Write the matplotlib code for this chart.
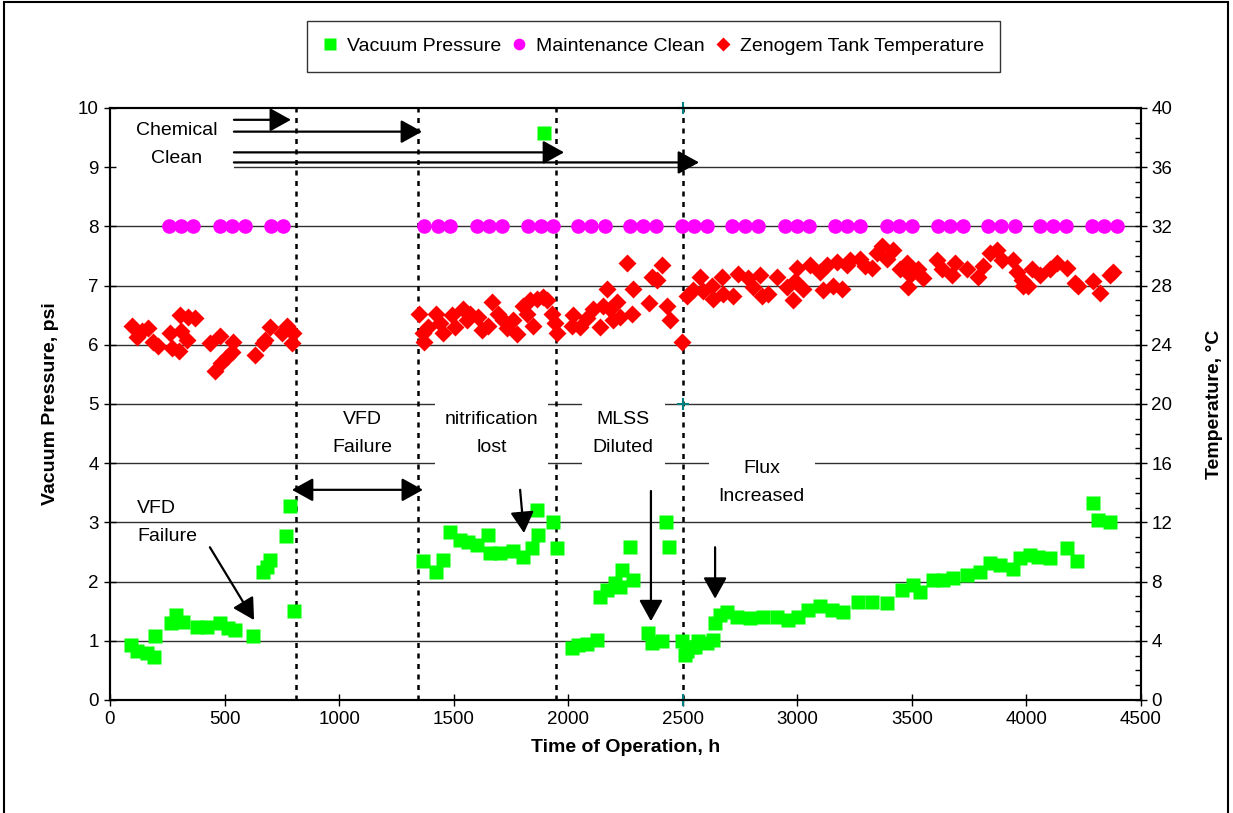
import numpy as np
import matplotlib
matplotlib.use('Agg')
import matplotlib.pyplot as plt
from matplotlib.patches import Rectangle
from matplotlib.ticker import MultipleLocator

plt.rcParams['font.family'] = ['Liberation Sans', 'DejaVu Sans']

# 真空压力 (h, psi)
vac_hours = [90, 116, 160, 192, 195, 265, 288, 320, 378, 422, 480, 516, 546, 626,
             669, 684, 698, 768, 786, 803,
             1364, 1423, 1455, 1484, 1528, 1564, 1600, 1651, 1659, 1702, 1760, 1804,
             1840, 1862, 1869, 1894, 1935, 1950,
             2015, 2044, 2080, 2124, 2139, 2168, 2204, 2226, 2233, 2270, 2284, 2350,
             2364, 2408, 2425, 2441, 2495, 2510, 2517, 2539, 2553, 2568, 2604, 2633,
             2641, 2662, 2692, 2735, 2794, 2851, 2910, 2960, 3004, 3048, 3099, 3150,
             3200, 3266, 3324, 3390, 3455, 3506, 3536, 3594, 3637, 3681, 3739, 3797,
             3841, 3885, 3943, 3972, 4016, 4052, 4103, 4176, 4219, 4289, 4314, 4365]
vac_psi = [0.93, 0.82, 0.79, 0.73, 1.08, 1.30, 1.44, 1.32, 1.24, 1.24, 1.30, 1.21, 1.18, 1.08,
           2.17, 2.25, 2.36, 2.77, 3.28, 1.51,
           2.34, 2.17, 2.36, 2.83, 2.70, 2.67, 2.62, 2.79, 2.48, 2.48, 2.51, 2.42,
           2.56, 3.21, 2.79, 9.58, 3.01, 2.56,
           0.87, 0.93, 0.95, 1.01, 1.74, 1.86, 1.97, 1.91, 2.20, 2.59, 2.03, 1.13,
           0.96, 0.99, 3.01, 2.59, 0.99, 0.76, 0.82, 0.90, 0.90, 0.99, 0.96, 1.01,
           1.30, 1.44, 1.49, 1.41, 1.38, 1.41, 1.41, 1.35, 1.41, 1.52, 1.58, 1.52,
           1.49, 1.66, 1.66, 1.63, 1.86, 1.94, 1.83, 2.03, 2.03, 2.06, 2.11, 2.17,
           2.31, 2.28, 2.22, 2.39, 2.45, 2.42, 2.39, 2.56, 2.34, 3.32, 3.04, 3.01]

# 维护清洗
clean_hours = [257, 310, 362, 480, 533, 589, 703, 756,
               1371, 1432, 1484, 1602, 1654, 1711, 1824, 1881, 1934, 2043, 2100, 2161,
               2270, 2326, 2383, 2497, 2549, 2606, 2715, 2771, 2828, 2946, 2998, 3051,
               3164, 3216, 3274, 3391, 3444, 3501, 3614, 3667, 3723, 3833, 3889, 3950,
               4059, 4116, 4173, 4286, 4339, 4395]
clean_psi = [8] * len(clean_hours)

# 水箱温度 (h, °C)
temp_hours = [95, 116, 138, 167, 189, 211, 262, 269, 300, 306, 310, 335, 341, 371, 436,
              458, 480, 484, 509, 531, 538, 633, 668, 677, 698, 749, 771, 793, 800,
              1350, 1368, 1372, 1389, 1425, 1440, 1455, 1491, 1506, 1542, 1557, 1571,
              1607, 1622, 1651, 1666, 1695, 1717, 1731, 1760, 1775, 1804, 1818, 1833,
              1847, 1862, 1891, 1906, 1928, 1942, 1950, 2015, 2022, 2051, 2080, 2109,
              2139, 2153, 2168, 2182, 2197, 2211, 2226, 2255, 2277, 2284, 2354, 2364,
              2386, 2410, 2430, 2444, 2497, 2517, 2546, 2575, 2590, 2626, 2633, 2670,
              2677, 2720, 2742, 2786, 2808, 2837, 2844, 2873, 2910, 2953, 2982, 2990,
              2997, 3026, 3055, 3098, 3113, 3128, 3157, 3172, 3193, 3215, 3230, 3274,
              3295, 3324, 3346, 3368, 3390, 3419, 3448, 3477, 3481, 3492, 3528, 3550,
              3608, 3630, 3674, 3688, 3739, 3790, 3812, 3841, 3870, 3892, 3943, 3957,
              3979, 3986, 4008, 4023, 4059, 4103, 4132, 4175, 4212, 4226, 4292, 4321,
              4365, 4379]
temp_c = [25.3, 24.5, 24.9, 25.1, 24.2, 23.9, 24.8, 23.8, 23.6, 26.0, 24.9, 24.3, 25.9, 25.8, 24.1,
          22.2, 24.6, 22.8, 23.2, 23.5, 24.2, 23.3, 24.1, 24.3, 25.2, 24.8, 25.3, 24.1, 24.8,
          26.1, 24.8, 24.2, 25.2, 26.1, 25.5, 24.8, 26.0, 25.2, 26.4, 25.7, 26.1,
          25.9, 25.0, 25.3, 26.9, 26.1, 25.7, 25.1, 25.7, 24.7, 26.6, 26.1, 27.0,
          25.3, 27.1, 27.2, 27.0, 26.1, 25.5, 24.8, 25.3, 26.0, 25.2, 25.8, 26.4,
          25.2, 26.6, 27.8, 26.4, 25.7, 26.9, 25.9, 29.5, 26.1, 27.8, 26.8, 28.6,
          28.4, 29.4, 26.6, 25.7, 24.2, 27.3, 27.7, 28.6, 27.6, 28.0, 27.1, 28.6,
          27.4, 27.3, 28.8, 28.5, 27.9, 28.7, 27.3, 27.4, 28.6, 27.9, 27.0, 28.3,
          29.2, 27.8, 29.4, 28.9, 27.7, 29.4, 28.0, 29.6, 27.8, 29.4, 29.7, 29.8,
          29.3, 29.2, 30.2, 30.7, 29.8, 30.4, 29.1, 29.5, 27.9, 28.7, 29.1, 28.5,
          29.7, 29.1, 28.7, 29.5, 29.1, 28.6, 29.3, 30.2, 30.4, 29.7, 29.7, 28.9,
          28.4, 28.0, 28.0, 29.1, 28.7, 29.1, 29.5, 29.2, 28.2, 28.0, 28.3, 27.5,
          28.7, 28.9]

event_hours = [810, 1345, 1945, 2500]
ref_hours = [2500, 2500, 2500]
ref_psi = [0, 5, 10]

fig = plt.figure(figsize=(12.33, 8.13), dpi=100)
ax = fig.add_axes([0.0892, 0.139, 0.8362, 0.7282])
ax2 = ax.twinx()

# 网格线
for y in range(1, 10):
    ax.axhline(y, color='#303030', lw=1.0, zorder=0)
for xv in event_hours:
    ax.axvline(xv, color='black', lw=1.8, ls=(0, (2, 2.2)), zorder=1)

ax.plot(vac_hours, vac_psi, 's', color='#00ff00', ms=10, mec='none', zorder=3,
        label='Vacuum Pressure')
ax.plot(clean_hours, clean_psi, 'o', color='#ff00ff', ms=10.5, mec='none', zorder=3,
        label='Maintenance Clean')
ax.plot(ref_hours, ref_psi, '+', color='#008080', ms=9, mew=1.5, zorder=4, clip_on=False)
ax2.plot(temp_hours, temp_c, 'D', color='#ff0000', ms=9, mec='none', zorder=3,
         label='Zenogem Tank Temperature')

ax.set_xlim(0, 4500)
ax.set_ylim(0, 10)
ax2.set_ylim(0, 40)
ax.xaxis.set_major_locator(MultipleLocator(500))
ax.yaxis.set_major_locator(MultipleLocator(1))
ax2.yaxis.set_major_locator(MultipleLocator(4))
ax2.yaxis.set_minor_locator(MultipleLocator(1))
ax.tick_params(axis='both', direction='inout', length=8, width=1, labelsize=13.5, pad=4)
ax2.tick_params(axis='y', which='major', direction='inout', length=8, width=1, labelsize=13.5)
ax2.tick_params(axis='y', which='minor', direction='in', length=4, width=1)
for a in (ax, ax2):
    for s in a.spines.values():
        s.set_linewidth(1.5)

ax.set_xlabel('Time of Operation, h', fontsize=14, fontweight='bold', labelpad=8)
ax.set_ylabel('Vacuum Pressure, psi', fontsize=14, fontweight='bold', labelpad=14)
ax2.set_ylabel('Temperature, °C', fontsize=14, fontweight='bold', labelpad=24)

# 注释
tfs = 14
ls = 1.85
ax.add_patch(Rectangle((0, 8.85), 540, 1.1, facecolor='white', edgecolor='none', zorder=0.5))
ax.text(290, 9.38, 'Chemical\nClean', ha='center', va='center', fontsize=tfs,
        linespacing=ls, zorder=2)
ax.text(1100, 4.5, 'VFD\nFailure', ha='center', va='center', fontsize=tfs,
        linespacing=ls, bbox=dict(facecolor='white', edgecolor='none', pad=3), zorder=2)
ax.text(1667, 4.5, 'nitrification\nlost', ha='center', va='center', fontsize=tfs,
        linespacing=ls, bbox=dict(facecolor='white', edgecolor='none', pad=7), zorder=2)
ax.text(2240, 4.5, 'MLSS\nDiluted', ha='center', va='center', fontsize=tfs,
        linespacing=ls, bbox=dict(facecolor='white', edgecolor='none', pad=8), zorder=2)
ax.text(2845, 3.68, 'Flux\nIncreased', ha='center', va='center', fontsize=tfs,
        linespacing=ls, bbox=dict(facecolor='white', edgecolor='none', pad=7), zorder=2)
ax.text(118, 3.0, 'VFD\nFailure', ha='left', va='center', fontsize=tfs,
        linespacing=ls, zorder=2)

arr = dict(arrowstyle='-|>,head_length=0.65,head_width=0.36', mutation_scale=20,
           lw=1.6, color='black', shrinkA=0, shrinkB=0)
dbl = dict(arrowstyle='<|-|>,head_length=0.65,head_width=0.36', mutation_scale=20,
           lw=1.6, color='black', shrinkA=0, shrinkB=0)
for tip, yv in [(790, 9.80), (1362, 9.60), (1982, 9.25), (2571, 9.08)]:
    ax.annotate('', xy=(tip, yv), xytext=(541, yv), arrowprops=arr, zorder=5)
ax.annotate('', xy=(1366, 3.55), xytext=(794, 3.55), arrowprops=dbl, zorder=5)
ax.annotate('', xy=(629, 1.35), xytext=(436, 2.58), arrowprops=arr, zorder=5)
ax.annotate('', xy=(1807, 2.82), xytext=(1790, 3.55), arrowprops=arr, zorder=5)
ax.annotate('', xy=(2361, 1.33), xytext=(2361, 3.53), arrowprops=arr, zorder=5)
ax.annotate('', xy=(2641, 1.71), xytext=(2641, 2.58), arrowprops=arr, zorder=5)

h1, l1 = ax.get_legend_handles_labels()
h2, l2 = ax2.get_legend_handles_labels()
leg = fig.legend(h1 + h2, l1 + l2, loc='center', bbox_to_anchor=(0.530, 0.943), ncol=3,
                 fontsize=14, frameon=True, fancybox=False, edgecolor='black',
                 handlelength=0.7, handletextpad=0.5, columnspacing=0.6,
                 borderpad=0.85, markerscale=0.8)
leg.get_frame().set_linewidth(1.0)

fig.patches.append(Rectangle((4 / 1233, -0.01), 1224 / 1233, 1 - 2 / 813 + 0.01,
                             transform=fig.transFigure, fill=False, ec='black', lw=1.5))

fig.savefig('out.png', dpi=100)
